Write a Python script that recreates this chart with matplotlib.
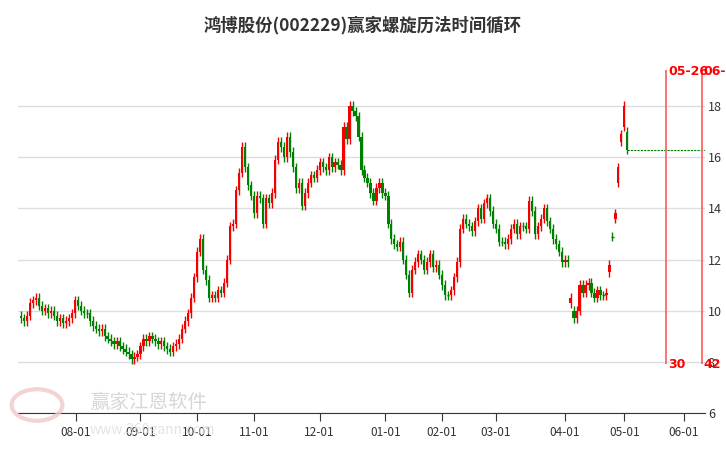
import matplotlib
matplotlib.use("Agg")
import matplotlib.pyplot as plt
from matplotlib.patches import Circle

plt.rcParams['font.family'] = ['Noto Sans CJK SC', 'DejaVu Sans']

closes = [9.7,9.6,9.8,10.3,10.4,10.5,10.2,10.0,10.1,9.9,10.0,9.8,9.6,9.7,9.5,9.6,9.7,9.9,10.4,
 10.2,10.0,9.9,9.9,9.6,9.4,9.3,9.2,9.3,9.0,8.9,8.8,8.7,8.8,8.6,8.5,8.4,8.3,8.1,8.2,8.3,8.6,
 8.9,8.8,9.0,8.9,8.8,8.7,8.8,8.6,8.5,8.4,8.6,8.7,8.9,9.3,9.6,9.9,10.5,11.3,
 12.3,12.8,11.6,11.2,10.5,10.6,10.5,10.8,10.7,11.1,12.0,13.3,13.4,14.7,15.4,16.4,15.6,14.9,14.5,
 13.8,14.5,14.4,13.4,14.4,14.2,14.6,15.9,16.6,16.4,16.0,16.8,16.2,15.6,14.8,15.0,14.1,14.6,15.0,15.3,15.2,15.5,
 15.8,15.6,15.5,16.0,15.6,15.8,15.7,15.5,17.2,16.7,18.0,17.8,17.6,16.8,15.5,15.2,15.0,14.6,14.3,14.8,15.0,14.6,
 14.5,13.4,12.8,12.6,12.5,12.7,12.0,11.4,10.7,11.6,11.9,12.2,12.0,11.6,11.9,12.2,11.7,11.8,11.4,11.0,
 10.6,10.6,10.8,11.3,11.9,13.2,13.6,13.4,13.3,13.1,13.5,14.0,13.6,14.2,14.4,13.9,13.4,13.2,
 12.7,12.7,12.6,12.8,13.2,13.4,13.0,13.3,13.3,13.2,14.3,13.9,13.0,13.3,13.6,14.0,13.5,13.2,12.8,12.6,12.3,11.9,
 12.0,11.9,10.5,9.7,10.0,11.0,10.7,11.0,11.1,10.7,10.5,10.8,10.6,10.6,10.7,11.8,12.9,13.8,15.6,16.9,18.0,16.3]
opens = [9.8,9.7,9.6,9.8,10.3,10.4,10.5,10.2,10.0,10.1,9.9,10.0,9.8,9.6,9.7,9.5,9.6,9.7,9.9,
 10.4,10.2,10.0,9.9,9.9,9.6,9.4,9.3,9.2,9.3,9.0,8.9,8.8,8.7,8.8,8.6,8.5,8.4,8.3,8.1,8.2,8.3,
 8.6,8.9,8.8,9.0,8.9,8.8,8.7,8.8,8.6,8.5,8.4,8.6,8.7,8.9,9.3,9.6,9.9,10.5,
 11.3,12.3,12.8,11.6,11.2,10.5,10.6,10.5,10.8,10.7,11.1,12.0,13.3,13.4,14.7,15.4,16.4,15.6,14.9,
 14.5,13.8,14.5,14.4,13.4,14.4,14.2,14.6,15.9,16.6,16.4,16.0,16.8,16.2,15.6,14.8,15.0,14.1,14.6,15.0,15.3,15.2,
 15.5,15.8,15.6,15.5,16.0,15.6,15.8,15.7,15.5,17.2,16.7,18.0,17.8,17.6,16.8,15.5,15.2,15.0,14.6,14.3,14.8,15.0,
 14.6,14.5,13.4,12.8,12.6,12.5,12.7,12.0,11.4,10.7,11.6,11.9,12.2,12.0,11.6,11.9,12.2,11.7,11.8,11.4,
 11.0,10.6,10.6,10.8,11.3,11.9,13.2,13.6,13.4,13.3,13.1,13.5,14.0,13.6,14.2,14.4,13.9,13.4,
 13.2,12.7,12.7,12.6,12.8,13.2,13.4,13.0,13.3,13.3,13.2,14.3,13.9,13.0,13.3,13.6,14.0,13.5,13.2,12.8,12.6,12.3,
 11.9,12.0,10.3,10.0,9.7,10.0,11.0,10.7,11.0,11.1,10.7,10.5,10.8,10.6,10.6,11.5,12.9,13.6,15.0,16.6,17.2,17.0]
tick_pos = [18.3, 40, 59, 78, 100, 122, 141, 159, 182, 202, 222]
tick_labels = ['08-01','09-01','10-01','11-01','12-01','01-01','02-01','03-01','04-01','05-01','06-01']
cycle_pos = [216, 228]
cycle_dates = ['05-26', '06-09']
cycle_counts = ['30', '42']
yticks = [6, 8, 10, 12, 14, 16, 18]

RED = '#f40000'; GREEN = '#008000'
fig = plt.figure(figsize=(7.26, 4.5), dpi=100)
ax = fig.add_axes([18/726, 37/450, (705-18)/726, (413-60)/450])
for i, (o, c) in enumerate(zip(opens, closes)):
    col = RED if c > o else GREEN
    hi = max(o, c) + 0.18; lo = min(o, c) - 0.18
    ax.vlines(i, lo, hi, color=col, lw=1)
    h = abs(c - o)
    if h < 0.05:
        ax.hlines(c, i-0.4, i+0.4, color=col, lw=1)
    else:
        ax.bar(i, h, bottom=min(o, c), width=0.75, color=col, linewidth=0)
last = len(closes) - 1
ax.hlines(closes[-1], last, 229, color=GREEN, lw=0.8, linestyles=(0, (2, 1)))
for p, d, n in zip(cycle_pos, cycle_dates, cycle_counts):
    ax.vlines(p, 7.9, 19.4, color='#ff6666', lw=1.3)
    ax.text(p+0.6, 19.35, d, color='red', fontsize=9, fontweight='bold', va='center', ha='left', family='DejaVu Sans', clip_on=False)
    ax.text(p+0.6, 7.9, n, color='red', fontsize=9, fontweight='bold', va='center', ha='left', family='DejaVu Sans', clip_on=False)
ax.set_xlim(-1, 229)
ax.set_ylim(6, 19.8)
ax.set_yticks(yticks)
ax.yaxis.tick_right()
ax.tick_params(axis='y', length=0, labelsize=9, colors='#333333', pad=2)
ax.set_xticks(tick_pos)
ax.set_xticklabels(tick_labels, fontsize=8.5, color='#333333')
ax.tick_params(axis='x', length=6, direction='out', colors='#333333')
ax.grid(axis='y', color='#dddddd', lw=1)
ax.set_axisbelow(True)
for s in ['top', 'left', 'right']:
    ax.spines[s].set_visible(False)
ax.spines['bottom'].set_color('#333333')
fig.text(0.5, 0.945, '鸿博股份(002229)赢家螺旋历法时间循环', ha='center', va='center', fontsize=12.5, fontweight='bold', color='#333333')
fig.patches.append(Circle((37/726, 1-405/450), 0.035, transform=fig.transFigure, fill=False, ec='#f2c8c8', lw=3, alpha=0.8))
fig.text(90/726, 1-402/450, '赢家江恩软件', fontsize=14, color='#cccccc', va='center', alpha=0.8)
fig.text(90/726, 1-430/450, 'www.360gann.com', fontsize=10, color='#dddddd', va='center', alpha=0.8)
fig.savefig('out.png', dpi=100)
